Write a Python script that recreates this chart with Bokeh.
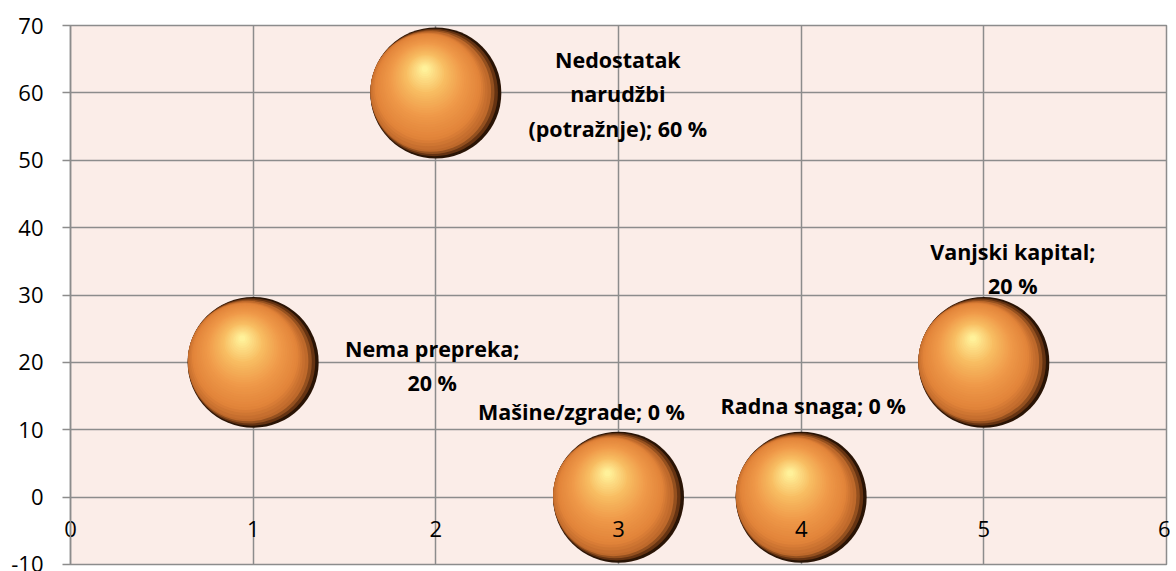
import numpy as np
from bokeh.plotting import figure
from bokeh.models import (ColumnDataSource, FixedTicker, Range1d, LinearAxis,
                          PrintfTickFormatter)
from bokeh.core.properties import value
from bokeh.embed import file_html
from bokeh.resources import INLINE

# ---- data ----
categories = ["Nema prepreka", "Nedostatak narudžbi (potražnje)", "Mašine/zgrade",
              "Radna snaga", "Vanjski kapital"]
x_vals = [1, 2, 3, 4, 5]
y_vals = [20, 60, 0, 0, 20]
percent = [20, 60, 0, 0, 20]
label_lines = [
    ["Nema prepreka;", "20 %"],
    ["Nedostatak", "narudžbi", "(potražnje); 60 %"],
    ["Mašine/zgrade; 0 %"],
    ["Radna snaga; 0 %"],
    ["Vanjski kapital;", "20 %"],
]
x_ticks = [0, 1, 2, 3, 4, 5, 6]
y_ticks = [-10, 0, 10, 20, 30, 40, 50, 60, 70]

# ---- style / layout ----
W, H = 1170, 571
ML, MR, MT, MB = 70, 4, 25, 7
GRID = "#8c8c8c"
BG = "#fbede8"
FONT = "Open Sans"
BUBBLE_PX = 131
label_dx = [179, 182, -37, 12, 29]
label_dy = [3, 1, -86, -92, -94]   # screen px, down positive

p = figure(width=W, height=H, x_range=Range1d(0, 6), y_range=Range1d(-10, 70),
           output_backend="svg", toolbar_location=None,
           min_border_left=ML, min_border_right=MR, min_border_top=MT,
           min_border_bottom=MB, x_axis_location=None,
           background_fill_color=BG, border_fill_color="white")
p.outline_line_color = GRID
p.outline_line_width = 1.5

# grids
p.xgrid.ticker = FixedTicker(ticks=x_ticks)
p.ygrid.ticker = FixedTicker(ticks=y_ticks)
for g in (p.xgrid[0], p.ygrid[0]):
    g.grid_line_color = GRID
    g.grid_line_width = 1.5

# y axis
ya = p.yaxis[0]
ya.ticker = FixedTicker(ticks=y_ticks)
ya.formatter = PrintfTickFormatter(format="%d")
ya.axis_line_color = GRID
ya.axis_line_width = 1.5
ya.major_tick_line_color = GRID
ya.major_tick_line_width = 1.5
ya.major_tick_out = 8
ya.major_tick_in = 0
ya.minor_tick_line_color = None
ya.major_label_standoff = 19
ya.major_label_text_font = FONT
ya.major_label_text_font_size = "22px"
ya.major_label_text_color = "black"

# x axis: labels drawn up into the plot, just under the y = 0 line
xa = LinearAxis(ticker=FixedTicker(ticks=x_ticks))
xa.axis_line_color = None
xa.major_tick_line_color = None
xa.minor_tick_line_color = None
xa.major_tick_out = 0
xa.major_tick_in = 0
xa.major_label_standoff = -44
xa.major_label_text_font = FONT
xa.major_label_text_font_size = "22px"
xa.major_label_text_color = "black"
p.add_layout(xa, "below")

# ---- shaded spheres (stacked circles) ----
px_x = (W - ML - MR) / 6.0
px_y = (H - MT - MB) / 80.0
R = BUBBLE_PX / 2.0
hl = np.array([-11.0, -24.0])            # highlight centre (screen px, down positive)
rim = np.array([-1.0, -0.25])
rim = rim / np.hypot(*rim)               # side opposite to the dark rim
t1 = 0.12
stops_t = [0.0, 0.03, 0.08, 0.2, 0.45, 0.72, 1.0]
stops_c = ["#2a1405", "#6a3613", "#bd682b", "#e2843a", "#ef9949", "#f8bd62", "#fff19a"]
stops_rgb = np.array([[int(c[i:i + 2], 16) for i in (1, 3, 5)] for c in stops_c], float)
N = 36
xs = np.array(x_vals, float)
ys = np.array(y_vals, float)
for k in range(N + 1):
    t = k / N
    r = R * (1 - t) + 3.0 * t
    if t <= t1:
        pos = rim * (R - r)
    else:
        p1 = rim * (R - (R * (1 - t1) + 3.0 * t1))
        s = ((t - t1) / (1 - t1)) ** 0.7
        pos = p1 + s * (hl - p1)
    dist = float(np.hypot(*pos))
    if dist > R - r and dist > 0:
        pos = pos * (R - r) / dist
    rgb = [np.interp(t, stops_t, stops_rgb[:, j]) for j in range(3)]
    col = "#%02x%02x%02x" % tuple(int(round(v)) for v in rgb)
    p.scatter(xs + pos[0] / px_x, ys - pos[1] / px_y, size=2 * r,
              marker="circle", fill_color=col, line_color=None)

# ---- data labels ----
src = ColumnDataSource(dict(
    x=x_vals, y=y_vals,
    text=["\n".join(l) for l in label_lines],
    dx=label_dx, dy=label_dy,
))
p.text(x="x", y="y", text="text", x_offset="dx", y_offset="dy", source=src,
       text_align="center", text_baseline="middle",
       text_font=value(FONT), text_font_style="bold", text_font_size="21.5px",
       text_line_height=1.18, text_color="black")

open("out.html", "w").write(file_html(p, INLINE))
